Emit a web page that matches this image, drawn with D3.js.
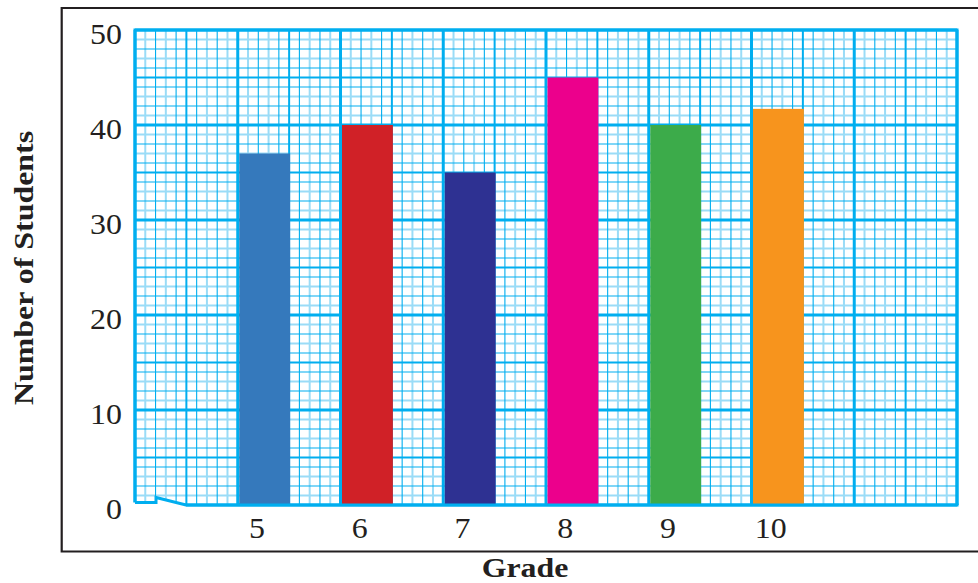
<!DOCTYPE html>
<html>
<head>
<meta charset="utf-8">
<script src="https://cdn.jsdelivr.net/npm/d3@7"></script>
<style>
  html, body { margin: 0; padding: 0; background: #fff; }
  svg { display: block; }
</style>
</head>
<body>
<script>
// ---- data ----
const grades = ["5", "6", "7", "8", "9", "10"];
const students = [37, 40, 35, 45, 40, 41.7];
const barColors = ["#3579bc", "#d02127", "#2e3192", "#ec008c", "#3cab4a", "#f7941d"];
const yTicks = [0, 10, 20, 30, 40, 50];
const xTitle = "Grade";
const yTitle = "Number of Students";

const W = 978, H = 583;
const FONT = "'Liberation Serif', 'Times New Roman', Times, serif";
const svg = d3.select("body").append("svg").attr("width", W).attr("height", H);

const plot = { left: 135, right: 957, top: 30, bottom: 505 };
const x = d3.scaleLinear().domain([0, 8]).range([plot.left, plot.right]);
const y = d3.scaleLinear().domain([0, 50]).range([plot.bottom, plot.top]);

const cyan = "#00aeef";
const cyanLight = "#9adcf7";

// ---- graph paper grid ----
const g = svg.append("g");
const vCols = d3.range(0, 81);
const hRows = d3.range(0, 51);
function style(i) {
  if (i % 10 === 0) return { c: cyan, w: 3, o: 3 };
  if (i % 5 === 0) return { c: cyan, w: 2, o: 2 };
  if (i % 2 === 1) return { c: cyanLight, w: 2, o: 0 };
  return { c: cyan, w: 1.1, o: 1 };
}
const lines = [];
vCols.forEach(i => lines.push({ t: "v", i, s: style(i) }));
hRows.forEach(j => lines.push({ t: "h", i: j, s: style(j) }));
lines.sort((a, b) => a.s.o - b.s.o);
g.selectAll("line").data(lines).join("line")
  .attr("x1", d => d.t === "v" ? x(d.i / 10) : plot.left)
  .attr("x2", d => d.t === "v" ? x(d.i / 10) : plot.right)
  .attr("y1", d => d.t === "v" ? plot.top : y(d.i))
  .attr("y2", d => d.t === "v" ? plot.bottom : y(d.i))
  .attr("stroke", d => d.s.c)
  .attr("stroke-width", d => d.s.w);

// ---- bars ----
svg.append("g").selectAll("rect").data(grades).join("rect")
  .attr("x", (d, i) => x(i + 1) + 1.5)
  .attr("width", (d, i) => x(i + 1.5) - x(i + 1) - 0.5)
  .attr("y", (d, i) => y(students[i]))
  .attr("height", (d, i) => y(0) - y(students[i]))
  .attr("fill", (d, i) => barColors[i]);

// ---- plot border ----
svg.append("path")
  .attr("d", `M${plot.left},${plot.bottom - 2} V${plot.top} H${plot.right} V${plot.bottom}`)
  .attr("fill", "none").attr("stroke", cyan).attr("stroke-width", 3);

// mask below zig-zag break, then break line + x axis
svg.append("path")
  .attr("d", `M${plot.left - 3},${plot.bottom - 2.5} H157 V497.5 L186,${plot.bottom} V${plot.bottom + 6} H${plot.left - 3} Z`)
  .attr("fill", "#fff");
svg.append("path")
  .attr("d", `M${plot.left},${plot.bottom - 2.5} H156 V497.5 L186,${plot.bottom} H${plot.right + 1.5}`)
  .attr("fill", "none").attr("stroke", cyan).attr("stroke-width", 3)
  .attr("stroke-linejoin", "miter");

// ---- outer frame ----
svg.append("path")
  .attr("d", `M${W},8 H61.7 V551.5 H${W}`)
  .attr("fill", "none").attr("stroke", "#231f20").attr("stroke-width", 2.2);

// ---- tick labels ----
const sx = 1.1;
svg.append("g").selectAll("g").data(yTicks).join("g")
  .attr("transform", d => `translate(122,${y(d) + 13.5}) scale(${sx},1)`)
  .append("text").attr("text-anchor", "end")
  .attr("font-family", FONT).attr("font-size", 29).attr("fill", "#231f20")
  .text(d => d);

svg.append("g").selectAll("g").data(grades).join("g")
  .attr("transform", (d, i) => `translate(${(x(i + 1) + x(i + 1.5)) / 2 - 6.5},537.5) scale(${sx},1)`)
  .append("text").attr("text-anchor", "middle")
  .attr("font-family", FONT).attr("font-size", 29).attr("fill", "#231f20")
  .text(d => d);

// ---- axis titles ----
svg.append("g").attr("transform", `translate(525,577) scale(1.18,1)`)
  .append("text").attr("text-anchor", "middle")
  .attr("font-family", FONT).attr("font-size", 27).attr("font-weight", "bold").attr("fill", "#231f20")
  .text(xTitle);

svg.append("g").attr("transform", `translate(33,268) rotate(-90) scale(1.14,1)`)
  .append("text").attr("text-anchor", "middle")
  .attr("font-family", FONT).attr("font-size", 28).attr("font-weight", "bold").attr("fill", "#231f20")
  .text(yTitle);
</script>
</body>
</html>
